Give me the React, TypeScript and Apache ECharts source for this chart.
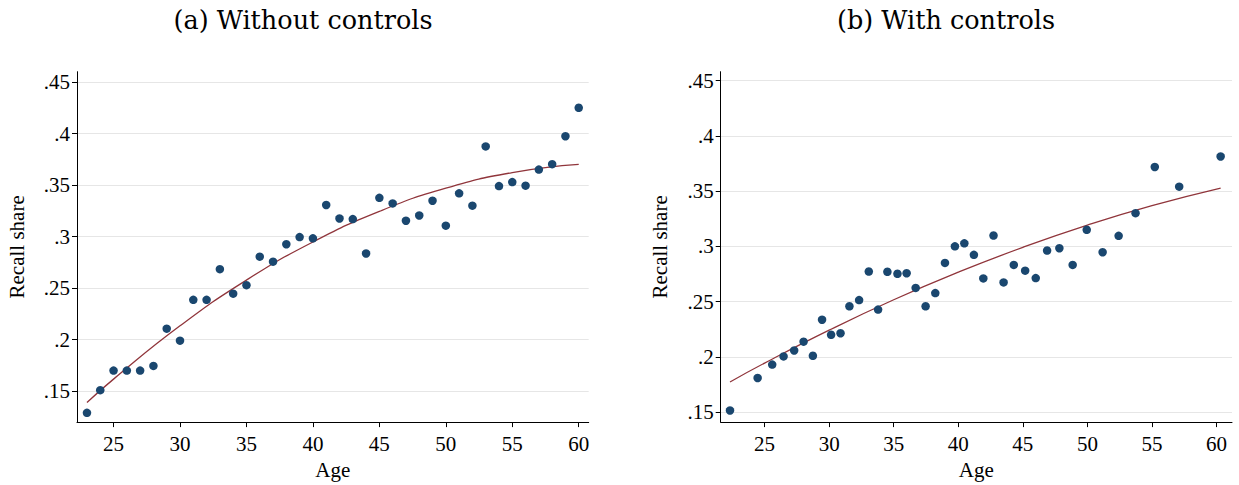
import React, { useEffect, useRef } from "react";
import * as echarts from "echarts";

// Panel (a): without controls — ages and recall shares
const agesA = [23, 24, 25, 26, 27, 28, 29, 30, 31, 32, 33, 34, 35, 36, 37, 38, 39, 40, 41, 42, 43, 44, 45, 46, 47, 48, 49, 50, 51, 52, 53, 54, 55, 56, 57, 58, 59, 60];
const sharesA = [0.129, 0.151, 0.170, 0.170, 0.170, 0.1745, 0.2107, 0.199, 0.2386, 0.2386, 0.2684, 0.2446, 0.2529, 0.2805, 0.2757, 0.2926, 0.2995, 0.2983, 0.3307, 0.3176, 0.317, 0.2836, 0.3376, 0.3322, 0.3154, 0.3205, 0.3348, 0.3106, 0.342, 0.330, 0.3875, 0.349, 0.3529, 0.3494, 0.365, 0.3703, 0.3974, 0.425];
// Fitted curve (a)
const fitAgesA = [23, 25, 30, 35, 40, 45, 50, 55, 60];
const fitA = [0.139, 0.1617, 0.2134, 0.2578, 0.2948, 0.3245, 0.347, 0.3621, 0.370];

// Panel (b): with controls
const agesB = [22.32, 24.46, 25.59, 26.47, 27.29, 28.02, 28.74, 29.45, 30.15, 30.88, 31.57, 32.32, 33.07, 33.79, 34.51, 35.29, 36.0, 36.7, 37.47, 38.22, 38.97, 39.74, 40.47, 41.21, 41.94, 42.73, 43.51, 44.3, 45.18, 46.0, 46.88, 47.83, 48.86, 49.95, 51.18, 52.42, 53.73, 55.22, 57.11, 60.32];
const sharesB = [0.1515, 0.1809, 0.193, 0.2004, 0.2058, 0.2138, 0.201, 0.2336, 0.220, 0.2214, 0.2458, 0.2514, 0.2772, 0.2428, 0.277, 0.2752, 0.2757, 0.2624, 0.2458, 0.2577, 0.285, 0.300, 0.3027, 0.2923, 0.271, 0.3098, 0.2674, 0.2832, 0.278, 0.2713, 0.2962, 0.2983, 0.2832, 0.315, 0.2947, 0.3095, 0.330, 0.3718, 0.354, 0.3813];
const fitAgesB = [22.32, 25, 30, 35, 40, 45, 50, 55, 60.32];
const fitB = [0.1773, 0.1944, 0.2242, 0.2517, 0.2766, 0.2991, 0.3192, 0.3368, 0.3527];

const yTicks = [0.15, 0.2, 0.25, 0.3, 0.35, 0.4, 0.45];
const xTicks = [25, 30, 35, 40, 45, 50, 55, 60];
const titles = ["(a) Without controls", "(b) With controls"];
const xName = "Age";
const yName = "Recall share";

const FONT = "Liberation Serif";
const TFONT = "DejaVu Serif";
const DOT = "#1a476f";
const FIT = "#90353b";
const GRIDC = "#e6e6e6";

const onStep = (v: number, step: number) => Math.abs(v / step - Math.round(v / step)) < 1e-6;
const fmtY = (v: number) => (onStep(v, 0.05) && v > 0.14 && v < 0.46 ? String(+v.toFixed(2)).replace(/^0/, "") : "");
const fmtX = (v: number) => (onStep(v, 5) && v >= 25 && v <= 60 ? String(Math.round(v)) : "");

function xAxisCfg(gridIndex: number, min: number, max: number, step: number) {
  return {
    type: "value",
    gridIndex,
    min,
    max,
    interval: step,
    name: xName,
    nameLocation: "middle",
    nameGap: 30,
    nameTextStyle: { fontFamily: FONT, fontSize: 21, color: "#000" },
    axisLine: { show: true, onZero: false, lineStyle: { color: "#000", width: 1 } },
    axisTick: { show: true, length: 5, customValues: xTicks, lineStyle: { color: "#000" } },
    axisLabel: { margin: 11, fontFamily: FONT, fontSize: 21, color: "#000", formatter: fmtX, showMinLabel: true, showMaxLabel: true },
    splitLine: { show: false },
  };
}

function yAxisCfg(gridIndex: number, min: number, max: number, step: number) {
  return {
    type: "value",
    gridIndex,
    min,
    max,
    interval: step,
    name: yName,
    nameLocation: "middle",
    nameGap: 50,
    nameTextStyle: { fontFamily: FONT, fontSize: 21, color: "#000" },
    axisLine: { show: true, onZero: false, lineStyle: { color: "#000", width: 1 } },
    axisTick: { show: true, length: 5, customValues: yTicks, lineStyle: { color: "#000" } },
    axisLabel: { margin: 7, fontFamily: FONT, fontSize: 21, color: "#000", formatter: fmtY },
    splitLine: { show: false },
  };
}

export default function App() {
  const ref = useRef<HTMLDivElement>(null);
  useEffect(() => {
    if (!ref.current) return;
    const chart = echarts.init(ref.current, null, { renderer: "svg" });
    const gridLines = yTicks.map((v) => ({ yAxis: v }));
    const mk = {
      silent: true,
      symbol: "none",
      label: { show: false },
      lineStyle: { color: GRIDC, width: 1, type: "solid" },
      data: gridLines,
      z: 0,
    };
    chart.setOption({
      animation: false,
      backgroundColor: "#fff",
      textStyle: { fontFamily: FONT },
      title: [
        { text: titles[0], left: 298, top: 2, textAlign: "center", textStyle: { fontFamily: TFONT, fontSize: 25.5, fontWeight: "normal", color: "#000" } },
        { text: titles[1], left: 941, top: 2, textAlign: "center", textStyle: { fontFamily: TFONT, fontSize: 25.5, fontWeight: "normal", color: "#000" } },
      ],
      grid: [
        { left: 77, top: 71.7, width: 511.7, height: 356.3, containLabel: false },
        { left: 720.7, top: 71.7, width: 511.3, height: 356.3, containLabel: false },
      ],
      xAxis: [xAxisCfg(0, 22.25, 60.75, 0.25), xAxisCfg(1, 21.6, 61.2, 0.2)],
      yAxis: [yAxisCfg(0, 0.12, 0.46, 0.01), yAxisCfg(1, 0.141, 0.458, 0.001)],
      series: [
        {
          type: "line",
          xAxisIndex: 0,
          yAxisIndex: 0,
          data: fitAgesA.map((a, i) => [a, fitA[i]]),
          smooth: true,
          showSymbol: false,
          lineStyle: { color: FIT, width: 1.3 },
          markLine: mk,
          z: 2,
        },
        {
          type: "scatter",
          xAxisIndex: 0,
          yAxisIndex: 0,
          data: agesA.map((a, i) => [a, sharesA[i]]),
          symbolSize: 8.5,
          itemStyle: { color: DOT, opacity: 1 },
          z: 3,
        },
        {
          type: "line",
          xAxisIndex: 1,
          yAxisIndex: 1,
          data: fitAgesB.map((a, i) => [a, fitB[i]]),
          smooth: true,
          showSymbol: false,
          lineStyle: { color: FIT, width: 1.3 },
          markLine: mk,
          z: 2,
        },
        {
          type: "scatter",
          xAxisIndex: 1,
          yAxisIndex: 1,
          data: agesB.map((a, i) => [a, sharesB[i]]),
          symbolSize: 8.5,
          itemStyle: { color: DOT, opacity: 1 },
          z: 3,
        },
      ],
    });
    return () => chart.dispose();
  }, []);
  return <div ref={ref} style={{ position: "fixed", left: 0, top: 0, width: 1239, height: 485 }} />;
}
